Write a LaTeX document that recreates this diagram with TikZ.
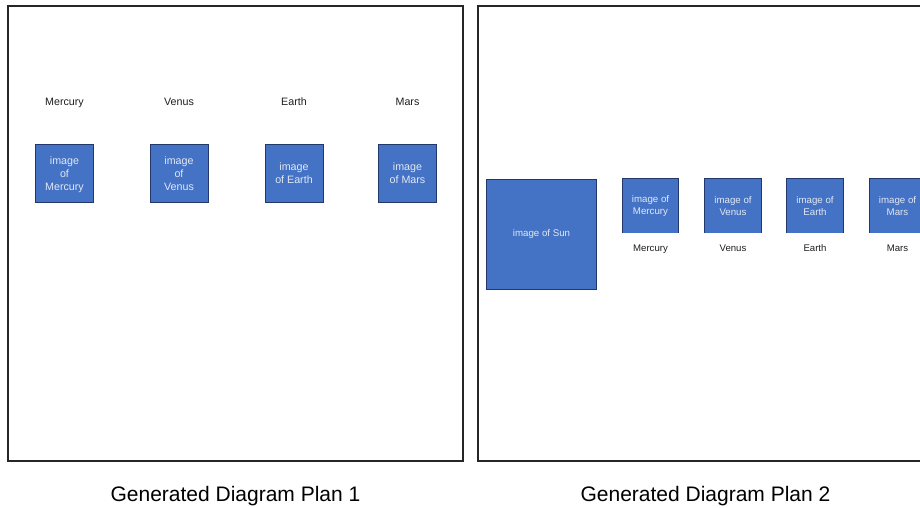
\documentclass[tikz,border=0pt]{standalone}
\usepackage{fontspec}
\setmainfont{Liberation Sans}
\definecolor{imgblue}{HTML}{4472C4}
\definecolor{imgedge}{HTML}{22386A}
\definecolor{imgtext}{HTML}{E2E8F4}
\definecolor{labeltext}{HTML}{1E1E1E}
\begin{document}
\begin{tikzpicture}[x=1pt,y=-1pt,
  panel/.style={draw=black!85, line width=1.2pt},
  bigimg/.style={rectangle, fill=imgblue, draw=imgedge, line width=1pt,
    minimum width=58, minimum height=58, inner sep=0pt, text=imgtext,
    text depth=0pt, align=center, font=\fontsize{10.7}{13}\selectfont},
  smallimg/.style={rectangle, fill=imgblue, minimum width=56, minimum height=54,
    inner sep=0pt, text=imgtext, align=center, font=\fontsize{9.7}{12}\selectfont},
  sunimg/.style={rectangle, fill=imgblue, draw=imgedge, line width=1pt,
    minimum size=110, inner sep=0pt, text=imgtext, font=\fontsize{9.7}{12}\selectfont},
  toplabel/.style={anchor=base, text=labeltext, font=\fontsize{10.7}{13}\selectfont},
  sublabel/.style={anchor=base, text=labeltext, font=\fontsize{9.6}{12}\selectfont},
  caption/.style={anchor=base, text=black, font=\fontsize{21}{25}\selectfont},
  edge/.style={draw=imgedge, line width=1pt}
]
\useasboundingbox (0,0) rectangle (920,508);
\clip (0,0) rectangle (920,508);

% plan 1: names above square images
\draw[panel] (8,6) rectangle (463,461);
\node[toplabel] (l1) at (64.5,106) {Mercury};
\node[toplabel] (l2) at (179,106) {Venus};
\node[toplabel] (l3) at (294,106) {Earth};
\node[toplabel] (l4) at (407.5,106) {Mars};
\node[bigimg] (a1) at (64.5,173.5) {image\\of\\Mercury};
\node[bigimg] (a2) at (179,173.5) {image\\of\\Venus};
\node[bigimg] (a3) at (294,173.5) {image\\of Earth};
\node[bigimg] (a4) at (407.5,173.5) {image\\of Mars};

% plan 2: sun followed by planets with names below
\draw[panel] (478,6) rectangle (933,461);
\node[sunimg] (sun) at (541.5,234) {image of Sun};
\node[smallimg] (b1) at (650.5,206) {image of\\Mercury};
\node[smallimg] (b2) at (733,206) {image of\\Venus};
\node[smallimg] (b3) at (815,206) {image of\\Earth};
\node[smallimg] (b4) at (897.5,206) {image of\\Mars};
\foreach \n in {b1,b2,b3,b4}
  \draw[edge] (\n.south west) -- (\n.north west) -- (\n.north east) -- (\n.south east);
\node[sublabel] (m1) at (650.5,251.2) {Mercury};
\node[sublabel] (m2) at (733,251.2) {Venus};
\node[sublabel] (m3) at (815,251.2) {Earth};
\node[sublabel] (m4) at (897.5,251.2) {Mars};

% captions
\node[caption] (c1) at (235.5,501.5) {Generated Diagram Plan 1};
\node[caption] (c2) at (705.5,501.5) {Generated Diagram Plan 2};
\end{tikzpicture}
\end{document}
